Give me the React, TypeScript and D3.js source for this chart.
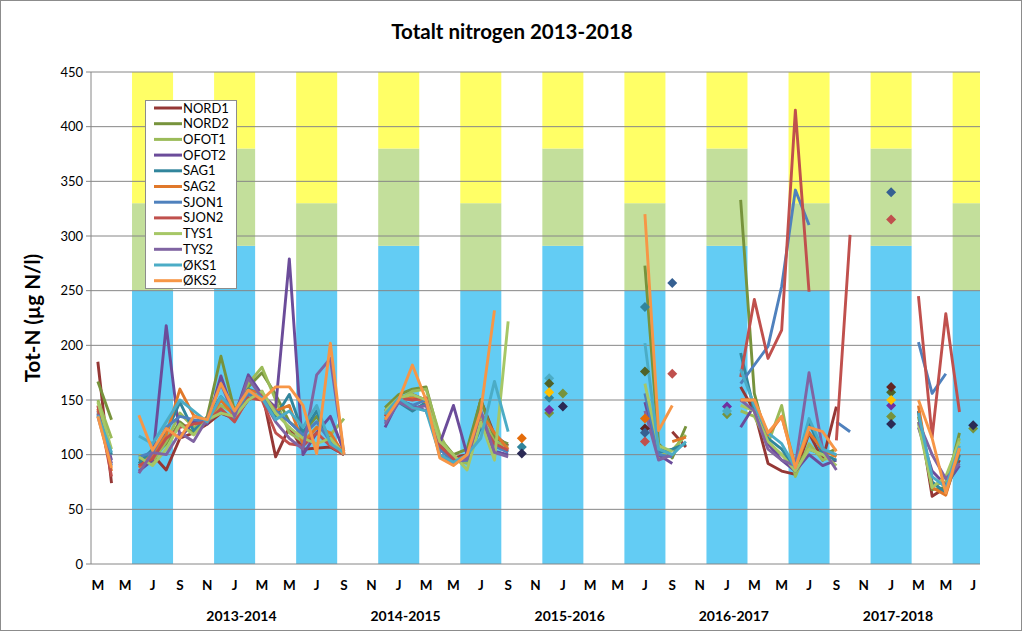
import React from 'react';
import * as d3 from 'd3';

const N = null;

// Month index 0 = March 2013 ... 64 = July 2018
const TICK_MONTHS = d3.range(0, 65, 2);
const X_LABELS = [
  'M', 'M', 'J', 'S', 'N', 'J',
  'M', 'M', 'J', 'S', 'N', 'J',
  'M', 'M', 'J', 'S', 'N', 'J',
  'M', 'M', 'J', 'S', 'N', 'J',
  'M', 'M', 'J', 'S', 'N', 'J',
  'M', 'M', 'J',
];
const YEAR_LABELS = ['2013-2014', '2014-2015', '2015-2016', '2016-2017', '2017-2018'];
const YEAR_MONTHS = [10.5, 22.5, 34.5, 46.5, 58.5];
const Y_TICKS = [0, 50, 100, 150, 200, 250, 300, 350, 400, 450];

// Background classification bands (summer Jun-Aug, winter Dec-Feb)
const BAND_CENTERS = [4, 10, 16, 22, 28, 34, 40, 46, 52, 58, 64];
const BAND_SEASON = ['S', 'W', 'S', 'W', 'S', 'W', 'S', 'W', 'S', 'W', 'S'];
const SUMMER_LIMITS = [250, 330, 450];
const WINTER_LIMITS = [291, 380, 450];
const BAND_COLORS = ['#63CCF4', '#C3DF9B', '#FFFF66'];

// Series values, one entry per month (null = no sample)
const NORD1 = [
  185, 74, N,
  90, 100, 86, 115, 120, 128, 138, 133, 150, 158, 98, 125, 105, 106, 107, 100,
  N, N,
  140, 152, 155, 150, 110, 97, 100, 150, 118, 108,
  N, N, N, N, N, N, N, N, N,
  N, N, 121, 107,
  N, N, N,
  162, 140, 92, 85, 82, 120, 95, 144, N,
  N, N, N, N,
  140, 62, 70, 95,
  N,
];
const NORD2 = [
  167, 132, N,
  95, 98, 110, 130, 120, 135, 190, 140, 162, 175, 155, 130, 120, 135, 115, 102,
  N, N,
  143, 155, 160, 162, 115, 100, 105, 150, 115, 110,
  N, N, N, N, N, N, N, N, N,
  273, 110, 97, 126,
  N, N, N,
  333, 156, 110, 100, 90, 105, 100, 105, N,
  N, N, N, N,
  135, 68, 70, 120,
  N,
];
const OFOT1 = [
  150, 115, N,
  100, 93, 112, 138, 125, 130, 145, 138, 165, 180, 150, 120, 112, 125, 118, 133,
  N, N,
  138, 150, 158, 160, 118, 95, 92, 135, 112, 107,
  N, N, N, N, N, N, N, N, N,
  N, 98, 104, 118,
  N, N, N,
  140, 135, 110, 145, 80, 110, 95, 100, N,
  N, N, N, N,
  130, 72, 75, 115,
  N,
];
const OFOT2 = [
  140, 95, N,
  85, 95, 218, 115, 130, 128, 172, 135, 173, 155, 143, 279, 100, 120, 135, 103,
  N, N,
  125, 150, 145, 140, 110, 145, 100, 130, 103, 100,
  N, N, N, N, N, N, N, N, N,
  148, 100, 92, N,
  N, N, N,
  125, 145, 110, 95, 85, 100, 90, 95, N,
  N, N, N, N,
  125, 85, 72, 90,
  N,
];
const SAG1 = [
  138, 100, N,
  92, 105, 120, 148, 122, 133, 153, 138, 160, 155, 135, 155, 120, 140, 110, 100,
  N, N,
  132, 148, 140, 148, 105, 95, 95, 125, 110, 103,
  N, N, N, N, N, N, N, N, N,
  N, 102, 105, 110,
  N, N, N,
  193, 140, 115, 105, 88, 130, 100, 95, N,
  N, N, N, N,
  140, 75, 65, 100,
  N,
];
const SAG2 = [
  142, 85, N,
  88, 100, 118, 160, 136, 130, 150, 135, 159, 156, 140, 145, 110, 125, 120, 100,
  N, N,
  135, 150, 152, 148, 100, 92, 98, 138, 120, 105,
  N, N, N, N, N, N, N, N, N,
  N, N, 112, 116,
  N, N, N,
  150, 150, 118, 135, 90, 120, 105, 98, N,
  N, N, N, N,
  145, 70, 63, 105,
  N,
];
const SJON1 = [
  135, 90, N,
  98, 102, 125, 135, 132, 130, 140, 132, 155, 152, 140, 130, 118, 130, 112, 100,
  N, N,
  130, 150, 145, 150, 105, 93, 95, 128, 108, 102,
  N, N, N, N, N, N, N, N, N,
  156, 100, 98, N,
  N, N, N,
  165, 182, 199, 254, 342, 310, N, 130, 121,
  N, N, N, N,
  203, 156, 174, N,
  N,
];
const SJON2 = [
  145, 80, N,
  90, 96, 115, 125, 128, 130, 142, 130, 152, 150, 120, 110, 108, 120, 108, 100,
  N, N,
  135, 152, 150, 152, 108, 96, 98, 130, 110, 104,
  N, N, N, N, N, N, N, N, N,
  N, N, N, N,
  N, N, N,
  171, 242, 188, 214, 415, 249, N, 113, 301,
  N, N, N, N,
  245, 116, 229, 139,
  N,
];
const TYS1 = [
  148, 105, N,
  98, 90, 105, 128, 118, 132, 138, 135, 150, 158, 138, 125, 115, 110, 115, 100,
  N, N,
  140, 152, 155, 150, 112, 100, 86, 130, 95, 222,
  N, N, N, N, N, N, N, N, N,
  165, 108, 103, N,
  N, N, N,
  145, 140, 112, 100, 85, 105, 100, 90, N,
  N, N, N, N,
  128, 70, 80, 112,
  N,
];
const TYS2 = [
  137, 92, N,
  83, 102, 100, 120, 112, 133, 165, 135, 170, 152, 130, 115, 105, 173, 188, 100,
  N, N,
  128, 148, 142, 145, 100, 93, 96, 140, 102, 98,
  N, N, N, N, N, N, N, N, N,
  140, 95, 100, N,
  N, N, N,
  150, 140, 105, 95, 90, 175, 105, 86, N,
  N, N, N, N,
  130, 100, 78, 92,
  N,
];
const OKS1 = [
  136, 102, N,
  117, 110, 130, 150, 140, 130, 153, 140, 158, 152, 132, 140, 125, 145, 110, 102,
  N, N,
  137, 152, 143, 140, 100, 93, 100, 115, 167, 121,
  N, N, N, N, N, N, N, N, N,
  202, 105, 100, 112,
  N, N, N,
  178, 145, 120, 110, 88, 133, 105, 100, N,
  N, N, N, N,
  138, 80, 70, 108,
  N,
];
const OKS2 = [
  135, 88, N,
  136, 104, 124, 115, 135, 132, 165, 140, 159, 150, 162, 162, 145, 101, 202, 100,
  N, N,
  132, 150, 182, 150, 97, 90, 100, 140, 232, N,
  N, N, N, N, N, N, N, N, N,
  320, 122, 145, N,
  N, N, N,
  150, 150, 120, 135, 88, 125, 121, 103, N,
  N, N, N, N,
  150, 115, 65, 106,
  N,
];

const SERIES_NAMES = ['NORD1', 'NORD2', 'OFOT1', 'OFOT2', 'SAG1', 'SAG2', 'SJON1', 'SJON2', 'TYS1', 'TYS2', 'ØKS1', 'ØKS2'];
const SERIES_VALUES = [NORD1, NORD2, OFOT1, OFOT2, SAG1, SAG2, SJON1, SJON2, TYS1, TYS2, OKS1, OKS2];
const SERIES_COLORS = ['#953735', '#77933C', '#9BBB59', '#6B4C9A', '#31859C', '#E0782A', '#4F81BD', '#C0504D', '#A6C766', '#8064A2', '#4BACC6', '#F79646'];

// Single samples shown as diamonds: [month, value]
const DIAMOND_NAVY = [[31, 101], [34, 144], [58, 128], [64, 127]];
const DIAMOND_ORANGE = [[31, 115], [40, 133]];
const DIAMOND_TEAL = [[31, 107], [33, 152], [40, 235]];
const DIAMOND_AQUA = [[33, 170], [46, 140]];
const DIAMOND_DARKOLIVE = [[33, 165], [40, 176], [58, 157]];
const DIAMOND_YELLOW = [[33, 157], [58, 150]];
const DIAMOND_PURPLE = [[33, 141], [46, 144], [58, 145]];
const DIAMOND_OLIVE = [[33, 138], [34, 156], [46, 137], [58, 135], [64, 124]];
const DIAMOND_DARKRED = [[40, 124], [58, 162]];
const DIAMOND_BLUE = [[40, 120], [42, 257], [58, 340]];
const DIAMOND_RED = [[40, 112], [42, 174], [58, 315]];

const DIAMOND_GROUPS = [
  DIAMOND_OLIVE, DIAMOND_PURPLE, DIAMOND_TEAL, DIAMOND_AQUA, DIAMOND_DARKOLIVE,
  DIAMOND_YELLOW, DIAMOND_ORANGE, DIAMOND_DARKRED, DIAMOND_BLUE, DIAMOND_RED, DIAMOND_NAVY,
];
const DIAMOND_COLORS = [
  '#77933C', '#7030A0', '#31859C', '#4BACC6', '#4F6228',
  '#FFC000', '#E46C0A', '#632523', '#366092', '#C0504D', '#2B2A55',
];

const W = 1024;
const H = 632;
const PLOT = { left: 91, right: 980, top: 72, bottom: 564 };
const FONT = "Lato, 'Open Sans', 'Liberation Sans', sans-serif";

export default function App() {
  const x = d3.scaleLinear().domain([-0.5, 64.5]).range([PLOT.left, PLOT.right]);
  const y = d3.scaleLinear().domain([0, 450]).range([PLOT.bottom, PLOT.top]);

  const line = d3
    .line<number | null>()
    .defined((d) => d !== null)
    .x((_, i) => x(i))
    .y((d) => y(d as number));

  const diamond = d3.symbol(d3.symbolSquare, 50)();

  const bands: JSX.Element[] = [];
  BAND_CENTERS.forEach((c, i) => {
    const limits = BAND_SEASON[i] === 'S' ? SUMMER_LIMITS : WINTER_LIMITS;
    let lo = 0;
    limits.forEach((hi, j) => {
      bands.push(
        <rect
          key={`b${i}-${j}`}
          x={x(c - 1.5)}
          width={x(c + 1.5) - x(c - 1.5)}
          y={y(hi)}
          height={y(lo) - y(hi)}
          fill={BAND_COLORS[j]}
        />
      );
      lo = hi;
    });
  });

  const legendX = 145.5;
  const legendY = 100.5;
  const legendStep = 15.7;

  return (
    <svg
      width={W}
      height={H}
      style={{ position: 'absolute', left: 0, top: 0, background: '#fff' }}
      fontFamily={FONT}
    >
      <rect x={0.5} y={0.5} width={W - 3} height={H - 2} fill="#fff" stroke="#8c8c8c" />
      <defs>
        <clipPath id="plotclip">
          <rect x={PLOT.left} y={PLOT.top} width={PLOT.right - PLOT.left} height={PLOT.bottom - PLOT.top} />
        </clipPath>
      </defs>

      <g clipPath="url(#plotclip)">{bands}</g>

      {Y_TICKS.map((t) => (
        <g key={`y${t}`}>
          <line x1={PLOT.left - 5} x2={PLOT.right} y1={y(t)} y2={y(t)} stroke="#868686" strokeWidth={1} />
          <text x={83} y={y(t) + 4.5} textAnchor="end" fontSize={13} fill="#000">
            {t}
          </text>
        </g>
      ))}
      <line x1={PLOT.left} x2={PLOT.left} y1={PLOT.top} y2={PLOT.bottom} stroke="#868686" />

      {TICK_MONTHS.map((m, i) => (
        <text key={`x${m}`} x={x(m)} y={590} textAnchor="middle" fontSize={13.5} fontWeight="bold">
          {X_LABELS[i]}
        </text>
      ))}
      {YEAR_LABELS.map((lab, i) => (
        <text key={lab} x={x(YEAR_MONTHS[i])} y={621} textAnchor="middle" fontSize={14} fontWeight="bold">
          {lab}
        </text>
      ))}

      <g clipPath="url(#plotclip)">
        {SERIES_VALUES.map((vals, i) => (
          <path
            key={SERIES_NAMES[i]}
            d={line(vals) || ''}
            fill="none"
            stroke={SERIES_COLORS[i]}
            strokeWidth={2.9}
            strokeLinejoin="round"
          />
        ))}
        {DIAMOND_GROUPS.map((pts, gi) =>
          pts.map(([m, v], k) => (
            <path
              key={`d${gi}-${k}`}
              d={diamond || ''}
              transform={`translate(${x(m)},${y(v)}) rotate(45)`}
              fill={DIAMOND_COLORS[gi]}
            />
          ))
        )}
      </g>

      <rect x={legendX} y={legendY} width={91} height={188} fill="#fff" stroke="#8c8c8c" />
      {SERIES_NAMES.map((name, i) => {
        const ly = 108 + i * legendStep;
        return (
          <g key={`l${name}`}>
            <line x1={154} x2={182} y1={ly} y2={ly} stroke={SERIES_COLORS[i]} strokeWidth={3} />
            <text x={183} y={ly + 4.5} fontSize={13} fill="#000">
              {name}
            </text>
          </g>
        );
      })}

      <text x={512} y={39} textAnchor="middle" fontSize={20.5} fontWeight="bold">
        Totalt nitrogen 2013-2018
      </text>
      <text
        transform={`translate(40,318) rotate(-90)`}
        textAnchor="middle"
        fontSize={20.5}
        fontWeight="bold"
      >
        Tot-N (µg N/l)
      </text>
    </svg>
  );
}
